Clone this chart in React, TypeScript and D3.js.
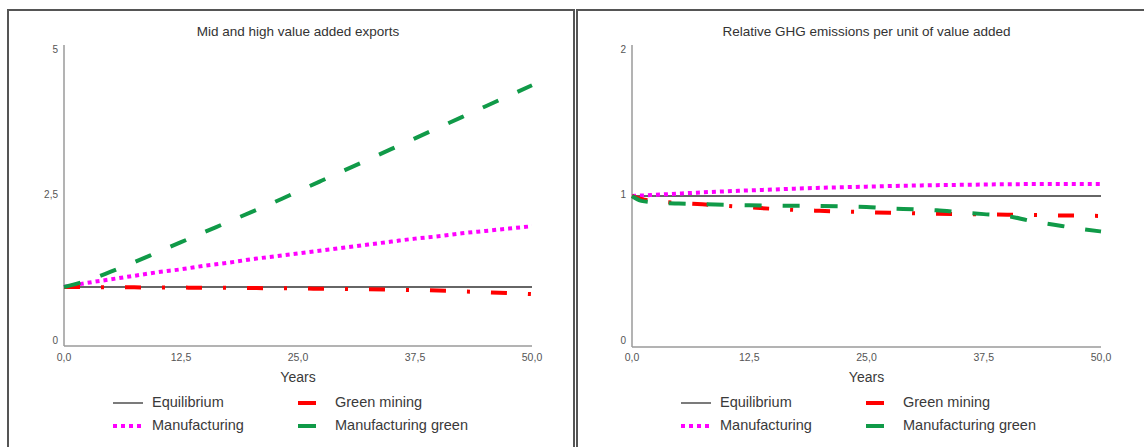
import * as d3 from "d3";
import React from "react";

const years = [0, 1, 2.5, 5, 7.5, 10, 12.5, 15, 17.5, 20, 22.5, 25, 27.5, 30, 32.5, 35, 37.5, 40, 42.5, 45, 47.5, 50];
const xTicks = [0, 12.5, 25, 37.5, 50];

const exportsEquilibrium = [1, 1, 1, 1, 1, 1, 1, 1, 1, 1, 1, 1, 1, 1, 1, 1, 1, 1, 1, 1, 1, 1];
const exportsManufacturing = [1.0, 1.03, 1.07, 1.13, 1.19, 1.25, 1.3, 1.36, 1.41, 1.47, 1.52, 1.57, 1.62, 1.67, 1.72, 1.77, 1.82, 1.86, 1.91, 1.95, 1.99, 2.03];
const exportsGreenMining = [1.0, 0.999, 0.998, 0.996, 0.994, 0.992, 0.99, 0.988, 0.985, 0.982, 0.979, 0.975, 0.97, 0.965, 0.96, 0.954, 0.947, 0.94, 0.926, 0.912, 0.897, 0.88];
const exportsManufacturingGreen = [1.0, 1.04, 1.11, 1.26, 1.42, 1.59, 1.76, 1.93, 2.1, 2.27, 2.44, 2.62, 2.8, 2.98, 3.16, 3.34, 3.52, 3.7, 3.88, 4.06, 4.24, 4.42];

const ghgEquilibrium = [1, 1, 1, 1, 1, 1, 1, 1, 1, 1, 1, 1, 1, 1, 1, 1, 1, 1, 1, 1, 1, 1];
const ghgManufacturing = [1.0, 1.003, 1.008, 1.016, 1.024, 1.031, 1.037, 1.043, 1.049, 1.054, 1.058, 1.062, 1.066, 1.069, 1.072, 1.074, 1.076, 1.078, 1.079, 1.08, 1.08, 1.08];
const ghgGreenMining = [1.0, 0.98, 0.965, 0.955, 0.945, 0.935, 0.925, 0.915, 0.908, 0.902, 0.897, 0.893, 0.889, 0.886, 0.883, 0.88, 0.878, 0.876, 0.874, 0.872, 0.87, 0.868];
const ghgManufacturingGreen = [1.0, 0.968, 0.958, 0.95, 0.946, 0.942, 0.939, 0.937, 0.935, 0.934, 0.931, 0.927, 0.918, 0.912, 0.905, 0.892, 0.88, 0.868, 0.835, 0.81, 0.785, 0.765];

const exportsYTicks = [0, 2.5, 5];
const ghgYTicks = [0, 1, 2];

const seriesNames = ["Equilibrium", "Green mining", "Manufacturing", "Manufacturing green"];

const styles = {
  Equilibrium: { color: "#333", width: 1.3, dash: "none" },
  Manufacturing: { color: "#ff00ff", width: 4, dash: "4 4" },
  "Green mining": { color: "#ff0000", width: 4, dash: "16 21 3 21" },
  "Manufacturing green": { color: "#109a48", width: 4, dash: "17 21" },
};

const font = "'Liberation Sans', Arial, sans-serif";
const textColor = "#3a3a3a";
const axisColor = "#9a9a9a";

type PanelProps = {
  frameX: number;
  frameW: number;
  x0: number;
  x1: number;
  yBottom: number;
  yTop: number;
  yMax: number;
  yTicks: number[];
  title: string;
  series: { name: string; values: number[] }[];
};

const Panel = ({ frameX, frameW, x0, x1, yBottom, yTop, yMax, yTicks, title, series }: PanelProps) => {
  const x = d3.scaleLinear().domain([0, 50]).range([x0, x1]);
  const y = d3.scaleLinear().domain([0, yMax]).range([yBottom, yTop]);
  // tick labels sit a little inside the value positions in the original
  const yLabel = d3.scaleLinear().domain([0, yMax]).range([341, 50]);

  const line = d3
    .line<number>()
    .x((_, i) => x(years[i]))
    .y((d) => y(d))
    .curve(d3.curveMonotoneX);

  const drawOrder = ["Equilibrium", "Manufacturing", "Green mining", "Manufacturing green"];
  const mid = (x0 + x1) / 2;

  const legendCols = [x0 + 49, x0 + 234];
  const legendRows = [403, 426];

  return (
    <g>
      <rect x={frameX} y={10} width={frameW} height={460} fill="white" stroke="#555" strokeWidth={2} />
      <text x={mid} y={32} textAnchor="middle" dominantBaseline="middle" fontSize={13.5} fill="#333" fontFamily={font}>
        {title}
      </text>

      {/* axes */}
      <line x1={x0} x2={x0} y1={45} y2={yBottom} stroke={axisColor} strokeWidth={1.5} />
      <line x1={x0} x2={x1} y1={yBottom} y2={yBottom} stroke={axisColor} strokeWidth={1.5} />
      {yTicks.map((t) => (
        <text key={t} x={x0 - 6} y={yLabel(t)} textAnchor="end" dominantBaseline="middle" fontSize={10} fill="#555" fontFamily={font}>
          {String(t).replace(".", ",")}
        </text>
      ))}
      {xTicks.map((t) => (
        <text key={t} x={x(t)} y={358} textAnchor="middle" dominantBaseline="middle" fontSize={10.5} fill="#555" fontFamily={font}>
          {t.toFixed(1).replace(".", ",")}
        </text>
      ))}
      <text x={mid} y={378} textAnchor="middle" dominantBaseline="middle" fontSize={14} fill={textColor} fontFamily={font}>
        Years
      </text>

      {/* lines */}
      {drawOrder.map((name) => {
        const s = series.find((d) => d.name === name)!;
        const st = styles[name];
        return (
          <path
            key={name}
            d={line(s.values) || ""}
            fill="none"
            stroke={st.color}
            strokeWidth={st.width}
            strokeDasharray={st.dash}
          />
        );
      })}

      {/* legend */}
      {seriesNames.map((name, i) => {
        const st = styles[name];
        const col = i % 2;
        const row = Math.floor(i / 2);
        const lx = legendCols[col];
        const ly = legendRows[row];
        const sampleLen = col === 0 ? 30 : 18;
        const textX = col === 0 ? lx + 39 : lx + 37;
        return (
          <g key={name}>
            <line
              x1={lx}
              x2={lx + sampleLen}
              y1={ly}
              y2={ly}
              stroke={st.color}
              strokeWidth={st.width}
              strokeDasharray={name === "Manufacturing" ? st.dash : "none"}
            />
            <text x={textX} y={ly} dominantBaseline="middle" fontSize={14.5} fill={textColor} fontFamily={font}>
              {name}
            </text>
          </g>
        );
      })}
    </g>
  );
};

export default function App() {
  return (
    <svg
      width={1144}
      height={447}
      style={{ position: "absolute", left: 0, top: 0, background: "white" }}
    >
      <Panel
        frameX={8}
        frameW={566}
        x0={64}
        x1={532}
        yBottom={346}
        yTop={51}
        yMax={5}
        yTicks={exportsYTicks}
        title="Mid and high value added exports"
        series={[
          { name: "Equilibrium", values: exportsEquilibrium },
          { name: "Manufacturing", values: exportsManufacturing },
          { name: "Green mining", values: exportsGreenMining },
          { name: "Manufacturing green", values: exportsManufacturingGreen },
        ]}
      />
      <Panel
        frameX={577}
        frameW={600}
        x0={632}
        x1={1101}
        yBottom={347}
        yTop={45}
        yMax={2}
        yTicks={ghgYTicks}
        title="Relative GHG emissions per unit of value added"
        series={[
          { name: "Equilibrium", values: ghgEquilibrium },
          { name: "Manufacturing", values: ghgManufacturing },
          { name: "Green mining", values: ghgGreenMining },
          { name: "Manufacturing green", values: ghgManufacturingGreen },
        ]}
      />
    </svg>
  );
}
